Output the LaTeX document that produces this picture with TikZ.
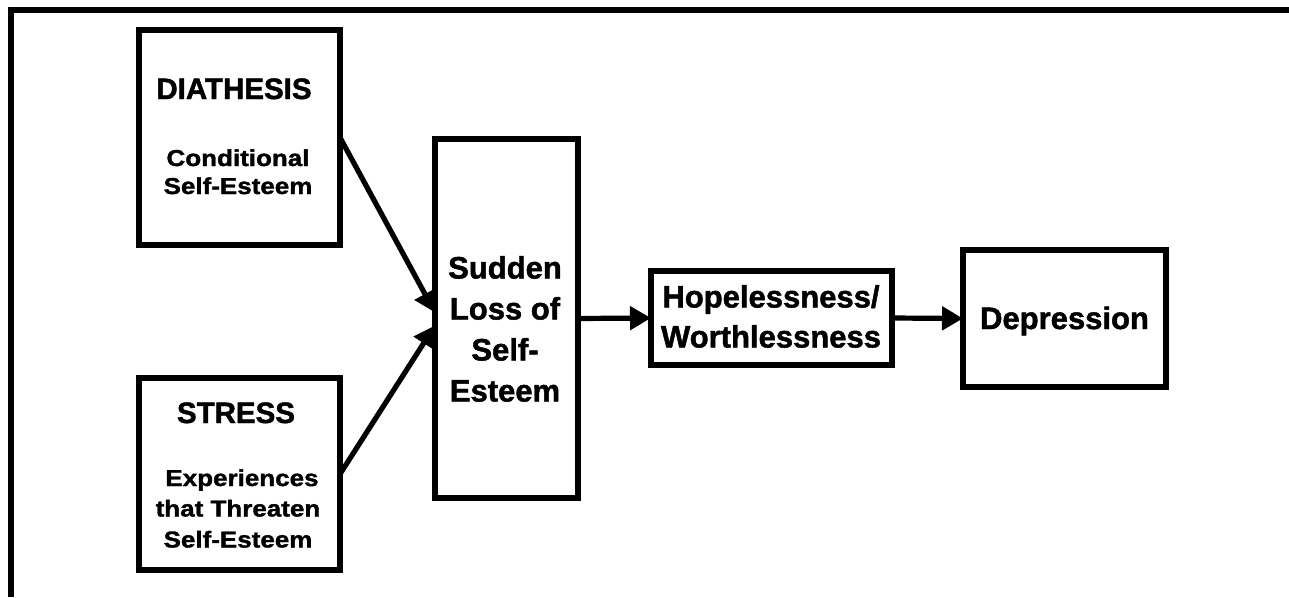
\documentclass[tikz,border=0pt]{standalone}
\usepackage{fontspec}
\setmainfont{Liberation Sans}[BoldFeatures={FakeBold=1.5}]
\newfontfamily\widesans{Liberation Sans}[FakeStretch=1.13, BoldFeatures={FakeBold=1.5}]
\usetikzlibrary{arrows.meta}

\begin{document}
\begin{tikzpicture}[x=1pt,y=-1pt,
  frameline/.style={line width=5.2pt},
  box/.style={draw, line width=5.2pt, inner sep=0pt, outer sep=0pt},
  bigtext/.style={font=\bfseries\fontsize{31}{41}\selectfont, inner sep=0pt, anchor=base},
  headtext/.style={font=\bfseries\fontsize{29.5}{36}\selectfont, inner sep=0pt, anchor=base},
  subtext/.style={font=\widesans\bfseries\fontsize{23}{30}\selectfont, inner sep=0pt, anchor=base},
  link/.style={line width=5.2pt, -{Triangle[length=21pt,width=23pt]}}]

\useasboundingbox (0,0) rectangle (1289,597);

% open frame: top and left sides only
\coordinate (frameR) at (1289,10);
\coordinate (frameC) at (11,10);
\coordinate (frameB) at (11,597);
\draw[frameline] (frameR) -- (frameC) -- (frameB);

% boxes
\node[box, minimum width=201pt, minimum height=215pt] (diathesis) at (239.5,137.5) {};
\node[box, minimum width=201pt, minimum height=192pt] (stress) at (239.5,474) {};
\node[box, minimum width=143pt, minimum height=359pt] (sudden) at (506.5,318.5) {};
\node[box, minimum width=241pt, minimum height=94pt] (hope) at (771.5,318) {};
\node[box, minimum width=203pt, minimum height=137pt] (depr) at (1064.5,318.5) {};

% diathesis text
\node[headtext] (dT) at (234,99) {DIATHESIS};
\node[subtext] (d1) at (238,166) {Conditional};
\node[subtext] (d2) at (238,194) {Self-Esteem};

% stress text
\node[headtext] (sT) at (236,423) {STRESS};
\node[subtext] (s1) at (242,486) {Experiences};
\node[subtext] (s2) at (238,516.5) {that Threaten};
\node[subtext] (s3) at (238,547.5) {Self-Esteem};

% sudden loss text
\node[bigtext] (u1) at (505,278.5) {Sudden};
\node[bigtext] (u2) at (505,319.5) {Loss of};
\node[bigtext] (u3) at (505,360.5) {Self-};
\node[bigtext] (u4) at (505,401.5) {Esteem};

% hopelessness text
\node[bigtext] (h1) at (771,307.5) {Hopelessness/};
\node[bigtext] (h2) at (771,347.5) {Worthlessness};

% depression text
\node[bigtext] (p1) at (1064.5,329) {Depression};

% connectors
\draw[link] (diathesis.east) -- ([yshift=6pt]sudden.west);
\draw[link] (stress.east) -- ([yshift=-7pt]sudden.west);
\draw[link] (sudden.east) -- (hope.west);
\draw[link] (hope.east) -- (depr.west);
\end{tikzpicture}
\end{document}
